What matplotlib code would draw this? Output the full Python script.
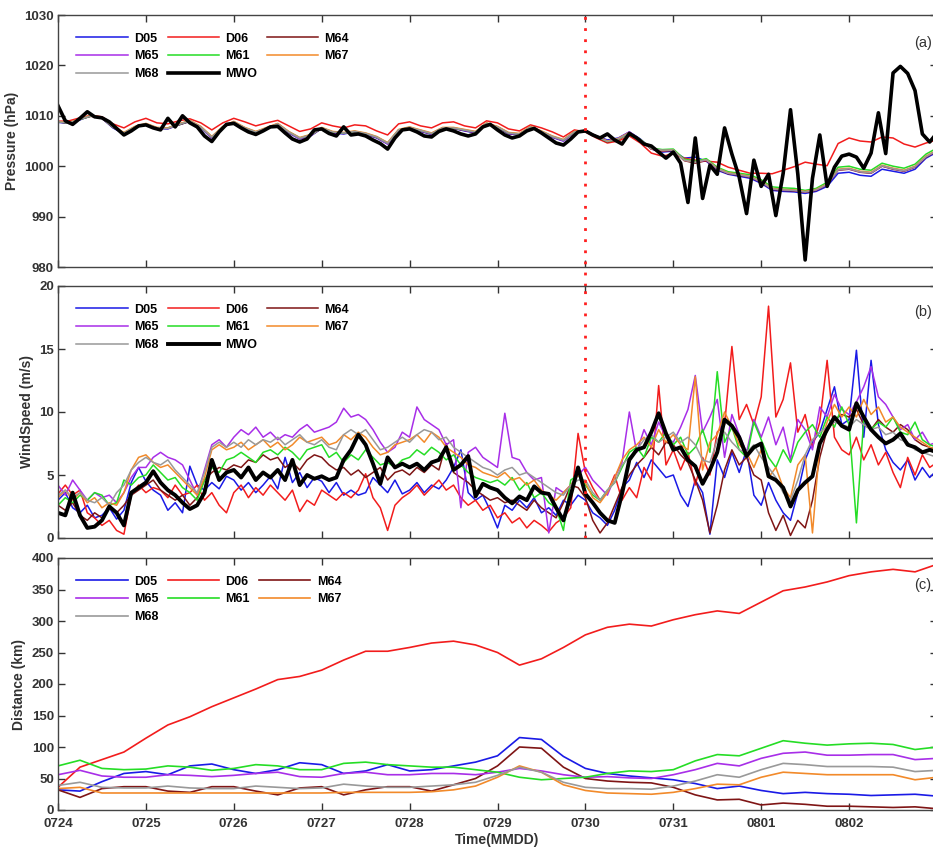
import numpy as np
import matplotlib
matplotlib.use('Agg')
import matplotlib.pyplot as plt

plt.rcParams['font.family'] = ['Liberation Sans', 'DejaVu Sans']

# ---------------- data ----------------
# time in days since 0724 00:00
t_3h = np.arange(81) / 8.0     # model pressure, 3-hourly
t_2h = np.arange(121) / 12.0   # MWO pressure, wind speed, 2-hourly
t_6h = np.arange(41) / 4.0     # distance, 6-hourly

day_ticks = list(range(10))
day_labels = ['0724', '0725', '0726', '0727', '0728', '0729', '0730', '0731', '0801', '0802']
typhoon_day = 6  # red dotted line (0730)

# pressure (hPa)
p_d05 = [1008.7, 1008.5, 1009.2, 1010.0, 1009.5, 1007.6, 1006.4, 1007.7,
         1008.3, 1007.5, 1007.4, 1008.2, 1008.9, 1007.6, 1005.6, 1007.7,
         1008.7, 1007.4, 1006.6, 1007.5, 1008.3, 1006.6, 1005.4, 1006.0,
         1007.5, 1006.6, 1006.4, 1006.8, 1006.3, 1005.6, 1004.4, 1007.0,
         1007.6, 1006.9, 1006.3, 1007.5, 1007.5, 1007.0, 1006.6, 1008.4,
         1007.7, 1006.4, 1006.2, 1007.7, 1006.8, 1005.7, 1005.0, 1006.7,
         1007.0, 1006.0, 1005.2, 1005.6, 1006.8, 1005.4, 1003.4, 1002.8,
         1003.0, 1001.6, 1001.8, 1001.0, 999.2, 998.4, 998.0, 997.6,
         996.6, 995.2, 995.0, 994.9, 994.6, 995.0, 996.0, 998.6,
         998.8, 998.2, 998.0, 999.4, 999.0, 998.6, 999.4, 1001.6,
         1002.8]
p_d06 = [1008.9, 1009.0, 1009.6, 1010.1, 1009.8, 1008.4, 1007.6, 1008.8,
         1009.5, 1008.6, 1008.4, 1009.0, 1009.4, 1008.6, 1007.2, 1008.6,
         1009.5, 1008.8, 1008.0, 1008.6, 1009.1, 1008.0, 1006.9, 1007.4,
         1008.6, 1008.0, 1007.6, 1008.2, 1008.0, 1007.0, 1006.2, 1008.4,
         1008.8, 1008.0, 1007.6, 1008.6, 1008.8, 1008.0, 1007.6, 1009.0,
         1008.6, 1007.4, 1007.0, 1008.2, 1007.6, 1006.8, 1005.8, 1007.2,
         1006.8, 1005.6, 1004.6, 1005.0, 1006.0, 1004.6, 1002.6, 1002.0,
         1002.4, 1001.6, 1001.2, 1001.0, 1000.8, 999.8, 999.2, 998.6,
         998.6, 998.5, 999.2, 999.9, 1000.8, 1000.4, 1000.1, 1004.5,
         1005.6, 1005.0, 1004.8, 1005.8, 1005.6, 1004.4, 1003.8, 1004.6,
         1005.2]
p_m64 = [1008.8, 1008.5, 1009.3, 1009.9, 1009.5, 1007.7, 1006.5, 1007.7,
         1008.3, 1007.5, 1007.5, 1008.2, 1008.9, 1007.7, 1005.7, 1007.7,
         1008.7, 1007.5, 1006.7, 1007.5, 1008.3, 1006.7, 1005.5, 1006.1,
         1007.5, 1006.7, 1006.5, 1006.8, 1006.4, 1005.7, 1004.5, 1007.1,
         1007.6, 1007.0, 1006.4, 1007.5, 1007.5, 1007.1, 1006.7, 1008.4,
         1007.7, 1006.5, 1006.3, 1007.7, 1006.8, 1005.8, 1005.1, 1006.7,
         1006.9, 1005.8, 1004.8, 1005.3, 1006.5, 1005.1, 1003.4, 1003.0,
         1003.1, 1001.1, 1000.6, 1001.1, 999.4, 998.5, 998.2, 997.8,
         996.8, 995.4, 995.2, 995.1, 994.8, 995.2, 996.3, 999.2,
         999.4, 998.8, 998.6, 1000.0, 999.4, 999.0, 999.8, 1001.8,
         1003.0]
p_m65 = [1008.9, 1008.6, 1009.4, 1010.0, 1009.6, 1007.8, 1006.5, 1007.8,
         1008.4, 1007.6, 1007.5, 1008.3, 1009.0, 1007.7, 1005.6, 1007.8,
         1008.8, 1007.6, 1006.7, 1007.6, 1008.4, 1006.7, 1005.4, 1006.1,
         1007.6, 1006.7, 1006.5, 1006.9, 1006.4, 1005.7, 1004.4, 1007.1,
         1007.7, 1007.0, 1006.4, 1007.6, 1007.6, 1007.1, 1006.7, 1008.5,
         1007.8, 1006.5, 1006.3, 1007.8, 1006.8, 1005.8, 1005.0, 1006.8,
         1007.1, 1006.0, 1005.0, 1005.5, 1006.8, 1005.3, 1003.5, 1003.1,
         1003.2, 1001.2, 1000.8, 1001.2, 999.5, 998.6, 998.3, 997.9,
         996.9, 995.5, 995.3, 995.2, 994.9, 995.3, 996.4, 999.3,
         999.5, 998.9, 998.7, 1000.1, 999.5, 999.1, 999.9, 1001.9,
         1003.1]
p_m61 = [1008.8, 1008.6, 1009.3, 1010.0, 1009.6, 1007.8, 1006.6, 1007.8,
         1008.4, 1007.6, 1007.6, 1008.3, 1009.0, 1007.8, 1005.8, 1007.8,
         1008.8, 1007.6, 1006.8, 1007.6, 1008.4, 1006.8, 1005.6, 1006.2,
         1007.6, 1006.8, 1006.6, 1006.9, 1006.5, 1005.8, 1004.6, 1007.2,
         1007.7, 1007.1, 1006.5, 1007.6, 1007.6, 1007.2, 1006.8, 1008.5,
         1007.8, 1006.6, 1006.4, 1007.8, 1006.9, 1005.9, 1005.2, 1006.8,
         1007.0, 1005.9, 1004.9, 1005.4, 1006.6, 1005.3, 1003.6, 1003.3,
         1003.4, 1001.4, 1001.0, 1001.5, 999.8, 998.9, 998.6, 998.3,
         997.3, 995.9, 995.7, 995.6, 995.2, 995.6, 996.8, 999.8,
         1000.0, 999.4, 999.2, 1000.6, 1000.0, 999.6, 1000.4, 1002.4,
         1003.6]
p_m67 = [1008.9, 1008.7, 1009.4, 1010.1, 1009.7, 1007.9, 1006.7, 1007.9,
         1008.5, 1007.7, 1007.6, 1008.4, 1009.1, 1007.9, 1005.9, 1007.9,
         1008.9, 1007.7, 1006.9, 1007.7, 1008.5, 1006.9, 1005.7, 1006.3,
         1007.7, 1006.9, 1006.7, 1007.0, 1006.6, 1005.9, 1004.7, 1007.3,
         1007.8, 1007.2, 1006.6, 1007.7, 1007.7, 1007.3, 1006.9, 1008.6,
         1007.9, 1006.7, 1006.5, 1007.9, 1007.0, 1006.0, 1005.3, 1006.9,
         1007.1, 1006.0, 1005.0, 1005.5, 1006.7, 1005.2, 1003.5, 1003.1,
         1003.2, 1001.2, 1000.8, 1001.3, 999.6, 998.7, 998.4, 998.0,
         997.0, 995.6, 995.4, 995.3, 995.0, 995.4, 996.5, 999.4,
         999.6, 999.0, 998.8, 1000.2, 999.6, 999.2, 1000.0, 1002.0,
         1003.2]
p_m68 = [1008.8, 1008.6, 1009.3, 1010.0, 1009.6, 1007.8, 1006.6, 1007.8,
         1008.4, 1007.6, 1007.5, 1008.3, 1009.0, 1007.8, 1005.8, 1007.8,
         1008.8, 1007.6, 1006.8, 1007.6, 1008.4, 1006.8, 1005.6, 1006.2,
         1007.6, 1006.8, 1006.6, 1006.9, 1006.5, 1005.8, 1004.6, 1007.2,
         1007.7, 1007.1, 1006.5, 1007.6, 1007.6, 1007.2, 1006.8, 1008.5,
         1007.8, 1006.6, 1006.4, 1007.8, 1006.9, 1005.9, 1005.2, 1006.8,
         1007.0, 1005.9, 1004.9, 1005.4, 1006.6, 1005.2, 1003.5, 1003.2,
         1003.2, 1001.2, 1000.8, 1001.3, 999.5, 998.6, 998.3, 997.9,
         996.9, 995.5, 995.3, 995.2, 994.9, 995.3, 996.4, 999.3,
         999.5, 998.9, 998.7, 1000.1, 999.5, 999.1, 999.9, 1001.9,
         1003.1]
p_mwo = [1012.0, 1009.0, 1008.3, 1009.5, 1010.8, 1009.8, 1009.6, 1008.8, 1007.5, 1006.2, 1007.0, 1008.0,
         1008.2, 1007.6, 1007.2, 1009.5, 1007.8, 1010.0, 1008.6, 1007.8, 1006.0, 1004.9, 1006.8, 1008.3,
         1008.5, 1007.6, 1006.8, 1006.3, 1007.0, 1007.8, 1007.9, 1006.6, 1005.4, 1004.8, 1005.4, 1007.2,
         1007.4, 1006.5, 1006.0, 1007.8, 1006.2, 1006.4, 1006.0, 1005.2, 1004.5, 1003.4, 1005.6, 1007.2,
         1007.4, 1006.8, 1006.0, 1005.8, 1006.9, 1007.4, 1007.0, 1006.4, 1006.0, 1006.4, 1007.8, 1008.3,
         1007.2, 1006.2, 1005.6, 1006.0, 1007.0, 1007.5, 1006.6, 1005.6, 1004.6, 1004.2, 1005.4, 1006.8,
         1007.0, 1006.2, 1005.6, 1006.4, 1005.2, 1004.4, 1006.5, 1005.6, 1004.4, 1004.0, 1002.8, 1001.6,
         1002.8, 1000.6, 992.8, 1005.6, 993.6, 1000.2, 998.4, 1007.6, 1002.4, 997.8, 990.6, 1001.2,
         996.0, 998.4, 990.2, 998.6, 1011.2, 998.4, 981.4, 997.6, 1006.2, 996.0, 999.8, 1002.0,
         1002.4, 1001.8, 999.6, 1002.6, 1010.6, 1002.5, 1018.5, 1019.8, 1018.4, 1015.0, 1006.4, 1004.8,
         1006.6]

# wind speed (m/s)
w_d05 = [3.0, 3.6, 2.4, 2.0, 2.6, 1.6, 1.8, 2.4, 1.5, 2.2, 4.4, 5.6,
         4.5, 3.8, 3.4, 2.2, 2.8, 2.0, 5.7, 4.2, 3.8, 4.4, 3.9, 4.9,
         4.6, 3.8, 4.4, 3.6, 4.2, 4.9, 3.9, 6.4, 4.4, 5.2, 4.0, 4.8,
         4.5, 3.6, 4.4, 3.4, 3.8, 3.4, 3.6, 4.8, 4.2, 3.6, 4.6, 3.5,
         3.8, 4.4, 3.6, 4.2, 3.9, 4.6, 5.6, 7.0, 3.6, 3.0, 3.4, 2.2,
         0.8, 2.6, 2.2, 3.0, 2.4, 3.2, 2.0, 2.4, 1.8, 3.0, 2.6, 3.4,
         3.0, 2.0, 1.6, 1.0, 2.2, 4.0, 4.6, 6.0, 4.8, 6.2, 5.5, 4.8,
         5.0, 3.4, 2.5, 4.6, 3.6, 0.3, 6.2, 4.8, 6.8, 5.2, 7.0, 3.4,
         2.6, 4.4, 3.0, 2.0, 1.4, 3.6, 6.2, 7.6, 8.4, 10.2, 12.0, 9.0,
         9.4, 14.9, 8.0, 14.1, 9.0, 7.0, 6.0, 5.4, 6.2, 4.6, 5.6, 4.8,
         5.4]
w_d06 = [3.5, 4.2, 3.4, 3.8, 2.0, 1.6, 1.0, 1.4, 0.6, 0.3, 3.4, 4.2,
         3.6, 4.0, 3.8, 3.2, 4.2, 3.4, 3.6, 4.2, 3.0, 3.6, 2.6, 2.0,
         3.6, 4.2, 3.2, 4.0, 3.4, 4.2, 3.6, 3.0, 3.8, 2.1, 3.0, 2.6,
         3.8, 3.4, 3.0, 3.6, 3.2, 3.8, 5.1, 3.2, 2.4, 0.6, 2.6, 3.2,
         3.6, 4.2, 3.4, 4.0, 4.6, 3.8, 4.2, 3.2, 2.6, 3.0, 2.2, 2.6,
         1.6, 2.0, 1.2, 1.6, 0.8, 1.4, 1.0, 0.5, 1.2, 1.6, 2.4, 8.3,
         5.2, 4.0, 3.0, 3.6, 5.0, 3.0, 4.0, 3.2, 5.6, 4.6, 12.1, 5.8,
         7.0, 5.4, 6.8, 4.2, 6.4, 5.0, 8.4, 9.0, 15.2, 9.4, 10.6, 9.0,
         11.2, 18.4, 9.6, 11.0, 13.9, 8.4, 9.8, 7.2, 9.2, 14.1, 8.0, 7.0,
         6.6, 8.0, 6.2, 7.4, 5.8, 6.8, 5.2, 4.0, 6.4, 5.0, 6.6, 5.6,
         6.0]
w_m64 = [2.6, 2.2, 2.8, 1.8, 1.4, 2.0, 1.6, 2.4, 2.0, 2.6, 3.4, 3.8,
         4.2, 4.6, 3.8, 3.4, 3.0, 3.4, 2.6, 3.2, 4.6, 5.2, 5.6, 5.4,
         5.8, 5.6, 6.2, 6.0, 6.6, 6.2, 6.4, 5.6, 6.0, 5.4, 6.2, 6.6,
         6.4, 5.8, 5.4, 5.6, 5.0, 5.4, 4.8, 5.2, 5.6, 4.6, 5.2, 5.4,
         5.0, 5.6, 5.2, 5.8, 5.4, 7.5, 5.2, 4.8, 4.4, 3.8, 3.4, 3.0,
         3.2, 2.8, 3.0, 2.6, 2.2, 3.0, 2.4, 2.0, 1.6, 2.8, 4.2, 4.0,
         3.2, 1.4, 0.4, 1.2, 2.6, 4.0, 5.0, 5.8, 6.4, 7.2, 6.6, 7.6,
         7.4, 6.6, 6.0, 4.6, 3.0, 0.4, 2.6, 5.4, 7.0, 5.8, 6.4, 5.0,
         4.6, 2.0, 0.6, 1.8, 0.2, 1.4, 0.8, 3.0, 6.4, 8.6, 9.4, 9.8,
         9.6, 10.2, 9.0, 8.6, 9.4, 8.8, 8.4, 9.0, 8.6, 7.8, 7.4, 7.2,
         7.0]
w_m65 = [4.2, 3.4, 4.6, 3.8, 3.0, 3.6, 3.2, 3.4, 2.8, 3.6, 4.8, 5.6,
         5.6, 6.4, 6.8, 6.4, 6.2, 5.8, 4.6, 3.4, 5.4, 7.4, 7.8, 7.2,
         8.0, 8.6, 8.2, 8.8, 8.0, 8.4, 7.8, 8.2, 8.0, 8.6, 9.0, 8.4,
         8.6, 8.8, 9.2, 10.3, 9.6, 9.8, 9.4, 8.6, 7.6, 6.8, 7.2, 8.4,
         8.0, 10.4, 9.4, 9.0, 8.6, 7.4, 7.8, 2.4, 6.8, 7.2, 6.4, 6.0,
         5.6, 9.9, 6.4, 6.2, 5.2, 4.6, 4.8, 0.4, 4.0, 3.6, 4.2, 5.0,
         5.6, 4.6, 4.0, 3.4, 4.8, 6.0, 10.0, 6.8, 8.6, 7.4, 9.2, 8.0,
         7.6, 8.8, 10.2, 12.9, 8.4, 9.6, 11.0, 6.4, 9.8, 8.2, 6.8, 9.4,
         8.0, 9.6, 7.4, 8.8, 6.2, 9.4, 8.6, 7.0, 10.4, 9.6, 11.4, 10.2,
         9.8, 10.8, 12.0, 13.6, 11.2, 10.6, 9.6, 8.6, 9.0, 7.8, 8.4, 7.4,
         7.6]
w_m61 = [2.6, 3.2, 2.8, 3.4, 3.0, 3.6, 3.4, 2.6, 2.8, 4.6, 4.2, 4.8,
         5.0, 5.8, 5.2, 4.6, 4.8, 4.0, 3.6, 3.0, 4.6, 5.6, 5.2, 6.2,
         6.4, 6.8, 6.4, 6.0, 6.8, 7.0, 6.6, 7.2, 6.8, 6.2, 7.0, 7.2,
         7.4, 6.4, 6.8, 6.0, 6.6, 6.2, 7.0, 6.4, 5.8, 6.0, 5.6, 6.2,
         6.4, 7.0, 6.6, 7.2, 6.8, 6.2, 6.6, 5.8, 5.2, 4.8, 4.6, 4.4,
         4.6, 4.2, 4.8, 3.8, 4.4, 3.2, 3.6, 2.8, 2.4, 0.6, 4.6, 5.0,
         4.2, 3.4, 3.0, 3.8, 4.4, 5.6, 6.8, 7.2, 6.4, 8.0, 7.6, 8.4,
         7.4, 8.0, 6.6, 7.2, 8.6, 6.8, 13.2, 7.6, 8.8, 7.0, 6.4, 9.2,
         7.8, 6.4, 5.6, 7.0, 6.0, 7.6, 8.4, 9.0, 8.0, 9.6, 8.8, 10.4,
         9.0, 1.2, 9.4, 8.6, 9.2, 8.8, 9.6, 8.4, 8.2, 9.2, 7.8, 7.4,
         7.2]
w_m67 = [3.2, 3.8, 3.0, 3.6, 2.8, 3.2, 2.4, 2.8, 2.6, 3.6, 5.4, 6.4,
         6.6, 6.0, 5.6, 5.8, 5.2, 4.6, 4.0, 3.4, 4.8, 7.0, 7.4, 7.0,
         7.2, 7.6, 7.0, 7.4, 7.8, 7.2, 7.6, 7.0, 7.4, 8.0, 7.6, 7.8,
         8.0, 7.4, 7.6, 8.2, 7.8, 8.4, 8.0, 7.2, 6.6, 6.8, 7.4, 7.6,
         7.8, 8.2, 7.6, 8.4, 8.0, 7.2, 6.8, 6.4, 5.8, 5.6, 5.2, 5.0,
         4.8, 5.2, 4.6, 4.8, 4.2, 4.6, 3.8, 3.4, 3.0, 3.6, 4.2, 5.0,
         4.4, 3.2, 2.8, 3.6, 4.8, 6.2, 7.0, 7.4, 8.0, 7.2, 8.6, 7.6,
         8.2, 7.4, 7.0, 12.8, 5.4, 7.6, 8.2, 10.0, 8.8, 7.4, 6.8, 5.6,
         7.0, 4.8, 5.6, 4.0, 3.2, 5.8, 6.6, 0.4, 7.4, 9.2, 10.6, 9.6,
         10.4, 9.6, 11.0, 9.8, 10.4, 9.2, 9.6, 8.8, 8.4, 8.0, 7.6, 7.2,
         7.0]
w_m68 = [3.4, 3.8, 3.2, 3.6, 3.0, 2.8, 3.2, 2.6, 3.6, 4.2, 5.4, 6.0,
         6.4, 6.0, 5.8, 6.2, 5.4, 4.8, 4.2, 3.6, 5.2, 7.2, 7.6, 7.2,
         7.6, 7.2, 7.8, 7.4, 7.8, 7.6, 8.0, 7.4, 7.8, 8.2, 7.6, 7.4,
         7.8, 7.2, 7.0, 8.2, 8.6, 8.2, 8.6, 7.8, 7.0, 7.2, 7.6, 8.0,
         7.6, 8.2, 8.6, 8.4, 7.8, 8.0, 7.2, 6.8, 6.4, 6.0, 5.6, 5.4,
         5.0, 5.4, 5.6, 5.0, 5.2, 4.8, 4.4, 4.0, 3.6, 3.4, 4.2, 4.6,
         4.6, 3.6, 3.0, 3.8, 4.4, 5.8, 6.4, 7.0, 7.8, 8.2, 7.6, 8.0,
         8.4, 7.6, 8.0, 7.4, 6.2, 6.0, 7.8, 8.4, 7.6, 7.0, 6.8, 7.4,
         6.4, 5.6, 4.8, 3.6, 3.0, 4.6, 6.6, 7.8, 8.4, 8.8, 9.2, 9.0,
         8.8, 9.4, 9.0, 8.6, 8.8, 8.2, 8.4, 7.8, 7.6, 7.0, 6.8, 6.6,
         6.4]
w_mwo = [2.0, 1.8, 3.6, 1.8, 0.8, 0.9, 1.4, 2.5, 2.0, 1.0, 3.6, 4.0,
         4.4, 5.3, 4.4, 3.8, 3.4, 2.8, 2.3, 2.6, 3.6, 6.2, 4.6, 5.2,
         5.4, 4.8, 5.6, 4.6, 5.2, 4.8, 5.4, 4.6, 6.2, 4.2, 5.0, 4.7,
         4.9, 4.6, 4.8, 6.2, 7.0, 8.2, 7.4, 5.9, 4.3, 6.4, 5.6, 5.9,
         5.6, 5.9, 5.4, 6.0, 6.2, 7.2, 5.4, 5.8, 6.5, 3.3, 4.3, 4.0,
         3.8, 3.2, 2.75, 3.3, 3.0, 4.1, 3.6, 3.5, 2.4, 1.4, 3.4, 5.6,
         3.5, 2.8, 2.0, 1.4, 1.2, 3.5, 6.2, 7.0, 7.2, 8.4, 9.9, 8.3,
         7.0, 7.2, 6.2, 5.7, 4.3, 5.4, 6.8, 9.4, 8.9, 8.0, 6.5, 7.2,
         7.5, 4.9, 4.6, 4.0, 2.5, 3.8, 4.4, 4.9, 7.5, 8.6, 9.6, 8.9,
         8.6, 10.7, 9.6, 8.6, 8.0, 7.5, 7.8, 8.3, 7.4, 7.2, 6.8, 7.0,
         6.8]

# distance (km)
d_d05 = [32, 30, 45, 58, 61, 56, 70, 73, 64, 58, 64, 75, 72, 58, 62, 72, 62, 64, 70, 76,
         86, 115, 112, 85, 66, 58, 54, 51, 48, 42, 34, 38, 31, 26, 28, 26, 25, 23, 24, 25, 22]
d_d06 = [36, 68, 80, 92, 114, 135, 148, 164, 178, 192, 207, 212, 222, 238, 252, 252, 258, 265, 268, 262,
         250, 230, 240, 258, 278, 290, 295, 292, 302, 310, 316, 312, 330, 348, 354, 362, 372, 378, 382, 378, 390]
d_m64 = [32, 20, 34, 37, 37, 30, 28, 37, 37, 30, 24, 35, 37, 24, 32, 37, 37, 30, 40, 50,
         70, 100, 98, 68, 50, 46, 44, 43, 36, 24, 16, 17, 8, 11, 9, 6, 6, 5, 4, 5, 2]
d_m65 = [56, 63, 54, 52, 52, 56, 55, 53, 55, 58, 60, 53, 52, 58, 60, 56, 56, 58, 58, 56,
         60, 66, 62, 56, 52, 53, 51, 50, 56, 64, 74, 70, 82, 90, 92, 87, 87, 88, 88, 80, 82]
d_m61 = [70, 79, 66, 64, 65, 70, 68, 63, 66, 72, 70, 64, 64, 74, 76, 72, 70, 68, 68, 64,
         60, 52, 48, 50, 52, 58, 62, 61, 64, 78, 88, 86, 98, 110, 106, 103, 105, 106, 104, 96, 100]
d_m67 = [34, 36, 27, 27, 27, 27, 27, 27, 27, 27, 27, 27, 27, 28, 28, 28, 28, 29, 32, 38,
         52, 70, 60, 40, 31, 27, 26, 25, 28, 34, 41, 40, 52, 60, 58, 56, 56, 56, 56, 48, 52]
d_m68 = [39, 44, 36, 35, 35, 38, 35, 34, 34, 38, 36, 34, 35, 41, 38, 36, 36, 38, 40, 44,
         55, 68, 60, 44, 36, 34, 34, 33, 38, 46, 56, 52, 64, 74, 72, 69, 69, 69, 68, 61, 63]

names = ['D05', 'D06', 'M64', 'M65', 'M61', 'M67', 'M68', 'MWO']
colors = {'D05': '#1a1ae6', 'D06': '#f21c1c', 'M64': '#7f1515', 'M65': '#a82ee8',
          'M61': '#25dd25', 'M67': '#f28a2a', 'M68': '#999999', 'MWO': 'black'}

pressure = {'D05': p_d05, 'D06': p_d06, 'M64': p_m64, 'M65': p_m65,
            'M61': p_m61, 'M67': p_m67, 'M68': p_m68}
wind = {'D05': w_d05, 'D06': w_d06, 'M64': w_m64, 'M65': w_m65,
        'M61': w_m61, 'M67': w_m67, 'M68': w_m68}
dist = {'D05': d_d05, 'D06': d_d06, 'M64': d_m64, 'M65': d_m65,
        'M61': d_m61, 'M67': d_m67, 'M68': d_m68}

# ---------------- figure ----------------
txt = '#333333'
fig = plt.figure(figsize=(9.33, 8.5), dpi=100)
left, width = 58 / 933, 879 / 933
hgt = 252 / 850
ax_a = fig.add_axes([left, 1 - 267 / 850, width, hgt])
ax_b = fig.add_axes([left, 1 - 538 / 850, width, hgt])
ax_c = fig.add_axes([left, 1 - 810 / 850, width, hgt])


def style(ax, ylim, yticks, ylabel):
    ax.set_xlim(0, 10)
    ax.set_ylim(*ylim)
    ax.set_yticks(yticks)
    ax.set_xticks(day_ticks)
    ax.tick_params(direction='in', top=True, right=True, length=5, width=1,
                   colors=txt, labelsize=9.5, pad=3)
    for lab in ax.get_xticklabels() + ax.get_yticklabels():
        lab.set_fontweight('bold')
    for s in ax.spines.values():
        s.set_color('#444444')
        s.set_linewidth(1)
    ax.set_ylabel(ylabel, fontsize=10, fontweight='bold', color=txt, labelpad=4)


def legend(ax, handles, order):
    hs = [handles[n] for n in order]
    ax.legend(hs, order, loc='upper left', bbox_to_anchor=(0.021, 0.93), ncol=3,
              frameon=False, borderpad=0, borderaxespad=0, handlelength=4.1,
              handletextpad=0.5, columnspacing=0.75, labelspacing=0.45,
              prop={'weight': 'bold', 'size': 9})


# (a) pressure
h = {}
for n in names[:-1]:
    h[n], = ax_a.plot(t_3h, pressure[n], color=colors[n], lw=1.1)
h['MWO'], = ax_a.plot(t_2h, p_mwo, color='black', lw=2.6)
style(ax_a, (980, 1030), range(980, 1031, 10), 'Pressure (hPa)')
ax_a.set_xticklabels([])
legend(ax_a, h, ['D05', 'M65', 'M68', 'D06', 'M61', 'MWO', 'M64', 'M67'])
ax_a.text(0.994, 0.89, '(a)', transform=ax_a.transAxes, ha='right', va='center',
          fontsize=10.5, color=txt)
ax_a.axvline(typhoon_day, ymin=-0.076, ymax=1, color='#ff2020', lw=2,
             ls=(0, (1, 3)), clip_on=False, zorder=6)

# (b) wind speed
h = {}
for n in names[:-1]:
    h[n], = ax_b.plot(t_2h, wind[n], color=colors[n], lw=1.1)
h['MWO'], = ax_b.plot(t_2h, w_mwo, color='black', lw=2.8)
style(ax_b, (0, 20), range(0, 21, 5), 'WindSpeed (m/s)')
ax_b.set_xticklabels([])
legend(ax_b, h, ['D05', 'M65', 'M68', 'D06', 'M61', 'MWO', 'M64', 'M67'])
ax_b.text(0.994, 0.897, '(b)', transform=ax_b.transAxes, ha='right', va='center',
          fontsize=10.5, color=txt)
ax_b.axvline(typhoon_day, color='#ff2020', lw=2, ls=(0, (1, 3)), zorder=6)

# (c) distance
h = {}
for n in names[:-1]:
    h[n], = ax_c.plot(t_6h, dist[n], color=colors[n], lw=1.2)
style(ax_c, (0, 400), range(0, 401, 50), 'Distance (km)')
ax_c.set_xticklabels(day_labels)
for lab in ax_c.get_xticklabels():
    lab.set_fontweight('bold')
ax_c.tick_params(axis='x', pad=6)
ax_c.set_xlabel('Time(MMDD)', fontsize=10, fontweight='bold', color=txt, labelpad=2)
legend(ax_c, h, ['D05', 'M65', 'M68', 'D06', 'M61', 'M64', 'M67'])
ax_c.text(0.994, 0.893, '(c)', transform=ax_c.transAxes, ha='right', va='center',
          fontsize=10.5, color=txt)

fig.savefig('out.png', dpi=100)
